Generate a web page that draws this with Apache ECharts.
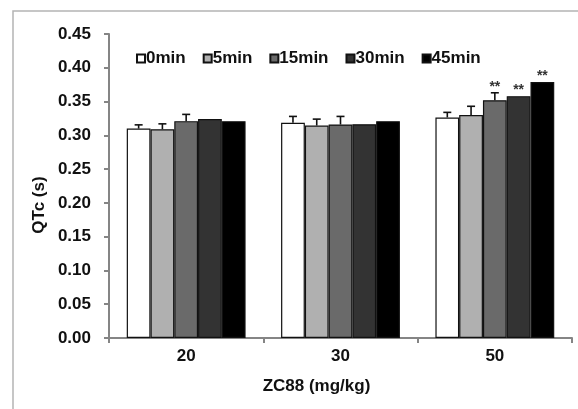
<!DOCTYPE html>
<html>
<head>
<meta charset="utf-8">
<script src="https://cdn.jsdelivr.net/npm/echarts@6/dist/echarts.min.js"></script>
<style>
html,body{margin:0;padding:0;background:#fff;}
#chart{width:578px;height:409px;}
</style>
</head>
<body>
<div id="chart"></div>
<script>
// ---- data ----
const categories = ['20', '30', '50'];
const seriesNames = ['0min', '5min', '15min', '30min', '45min'];
const v0 = [0.310, 0.3185, 0.3265];
const v5 = [0.309, 0.3145, 0.330];
const v15 = [0.321, 0.316, 0.352];
const v30 = [0.324, 0.3165, 0.358];
const v45 = [0.321, 0.321, 0.379];
const e0 = [0.0055, 0.0095, 0.0075];
const e5 = [0.008, 0.0095, 0.013];
const e15 = [0.010, 0.012, 0.011];
const e30 = [0, 0, 0];
const e45 = [0, 0, 0];
const sig0 = ['', '', ''];
const sig5 = ['', '', ''];
const sig15 = ['', '', '**'];
const sig30 = ['', '', '**'];
const sig45 = ['', '', '**'];
const yTicks = ['0.00','0.05','0.10','0.15','0.20','0.25','0.30','0.35','0.40','0.45'];
const xTitle = 'ZC88 (mg/kg)';
const yTitle = 'QTc (s)';

// ---- styling ----
const FONT = '"Liberation Sans", Arial, sans-serif';
const colors = ['#ffffff', '#b0b0b0', '#6a6a6a', '#333333', '#000000'];
const values = [v0, v5, v15, v30, v45];
const errors = [e0, e5, e15, e30, e45];
const sigs = [sig0, sig5, sig15, sig30, sig45];
const CAT_GAP = 0.23;

const chart = echarts.init(document.getElementById('chart'));

const barSeries = seriesNames.map((name, i) => ({
  type: 'bar',
  name: name,
  data: values[i],
  barGap: '0%',
  barCategoryGap: (CAT_GAP * 100) + '%',
  itemStyle: { color: colors[i], borderColor: '#111', borderWidth: 1.2 },
  emphasis: { disabled: true },
  z: 2
}));

const errData = [];
seriesNames.forEach((name, s) => {
  categories.forEach((c, k) => {
    errData.push([k, values[s][k], errors[s][k], s, sigs[s][k]]);
  });
});

const errSeries = {
  type: 'custom',
  name: 'err',
  data: errData,
  z: 5,
  silent: true,
  encode: { x: 0, y: 1 },
  renderItem: function (params, api) {
    const item = errData[params.dataIndex];
    const cat = item[0], val = item[1], err = item[2], s = item[3], sig = item[4];
    const bandW = api.size([1, 0])[0];
    const groupW = bandW * (1 - CAT_GAP);
    const barW = groupW / seriesNames.length;
    const base = api.coord([cat, val]);
    const top = api.coord([cat, val + err]);
    const x = base[0] - groupW / 2 + barW * (s + 0.5);
    const children = [];
    if (err > 0) {
      children.push({
        type: 'line',
        shape: { x1: x, y1: base[1], x2: x, y2: top[1] },
        style: { stroke: '#111', lineWidth: 1.6 }
      });
      children.push({
        type: 'line',
        shape: { x1: x - 4, y1: top[1], x2: x + 4, y2: top[1] },
        style: { stroke: '#111', lineWidth: 1.6 }
      });
    }
    if (sig) {
      children.push({
        type: 'text',
        style: {
          x: x, y: top[1] - 6, text: sig,
          align: 'center', verticalAlign: 'middle',
          font: 'bold 14px ' + FONT, fill: '#333'
        }
      });
    }
    return { type: 'group', children: children };
  }
};

chart.setOption({
  animation: false,
  backgroundColor: '#ffffff',
  graphic: [{
    type: 'rect',
    shape: { x: 13, y: 11, width: 700, height: 500 },
    style: { fill: 'none', stroke: '#b4b4b4', lineWidth: 1.5 },
    silent: true,
    z: -1
  }, {
    type: 'text',
    x: 39,
    y: 205,
    rotation: Math.PI / 2,
    style: {
      text: yTitle, align: 'center', verticalAlign: 'middle',
      font: 'bold 17px ' + FONT, fill: '#111'
    },
    silent: true
  }],
  legend: {
    data: seriesNames,
    left: 131,
    top: 45,
    itemWidth: 8,
    itemHeight: 8,
    itemGap: 17,
    icon: 'rect',
    textStyle: { fontFamily: FONT, fontWeight: 'bold', fontSize: 17, color: '#111', padding: [0, 0, 0, -4] },
    selectedMode: false
  },
  grid: { left: 109, right: 6, top: 34, bottom: 71, containLabel: false },
  xAxis: {
    type: 'category',
    data: categories,
    name: xTitle,
    nameLocation: 'middle',
    nameGap: 40,
    nameTextStyle: { fontFamily: FONT, fontWeight: 'bold', fontSize: 17, color: '#111', padding: [0, 48, 0, 0] },
    axisLine: { lineStyle: { color: '#858585', width: 2 } },
    axisTick: { show: true, length: 5, lineStyle: { color: '#858585', width: 2 } },
    axisLabel: { fontFamily: FONT, fontWeight: 'bold', fontSize: 17, color: '#111', margin: 10 }
  },
  yAxis: {
    type: 'value',
    min: 0,
    max: 0.45,
    interval: 0.05,
    splitLine: { show: false },
    axisLine: { show: true, lineStyle: { color: '#858585', width: 2 } },
    axisTick: { show: true, length: 5, lineStyle: { color: '#858585', width: 2 } },
    axisLabel: {
      fontFamily: FONT, fontWeight: 'bold', fontSize: 17, color: '#111', margin: 18,
      formatter: function (v) { return yTicks[Math.round(v / 0.05)]; }
    }
  },
  series: barSeries.concat([errSeries])
});
</script>
</body>
</html>
